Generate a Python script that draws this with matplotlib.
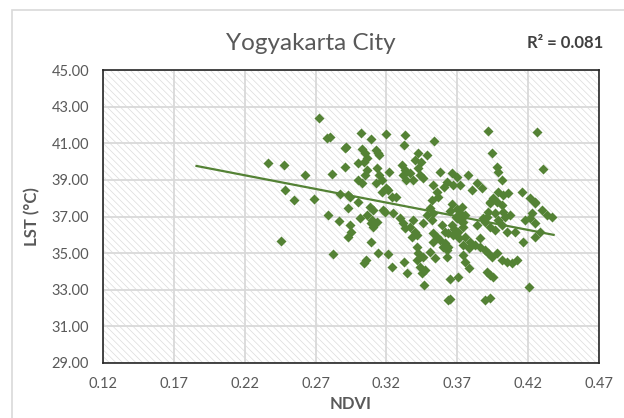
import numpy as np
import matplotlib
matplotlib.use('Agg')
import matplotlib.pyplot as plt
from matplotlib.patches import Rectangle

# values
ndvi = [
    0.2727, 0.278, 0.280, 0.2362, 0.248, 0.2626, 0.2818, 0.2484, 0.255, 0.269,
    0.287, 0.2908, 0.2908, 0.2786, 0.2866, 0.2454, 0.282,
    0.302, 0.309, 0.3197, 0.333, 0.3326, 0.3536, 0.2915, 0.303, 0.305, 0.306, 0.304,
    0.3127, 0.314, 0.315, 0.2997, 0.306, 0.305, 0.2997, 0.3026, 0.313, 0.3148, 0.3125,
    0.3167, 0.322, 0.3197, 0.3167, 0.3213, 0.3237, 0.327, 0.3308, 0.333, 0.332, 0.334,
    0.3367, 0.3386, 0.3425, 0.3402, 0.3442, 0.3484, 0.3425, 0.3437, 0.346, 0.3531,
    0.3555, 0.3566, 0.3578, 0.352, 0.3607, 0.293, 0.294, 0.2997, 0.293, 0.3084,
    0.3107, 0.306, 0.3178, 0.319, 0.313, 0.3096, 0.3245, 0.3296, 0.332, 0.333,
    0.3367, 0.339, 0.340, 0.3414, 0.338, 0.3456, 0.3484, 0.3508, 0.3531, 0.352,
    0.359, 0.3614, 0.3578, 0.3602, 0.3625, 0.3014, 0.294, 0.2952, 0.293, 0.3089,
    0.3103, 0.3089, 0.3143, 0.3213, 0.324, 0.304, 0.3056, 0.3324, 0.3343, 0.3418,
    0.3437, 0.345, 0.3472, 0.3425, 0.3461, 0.3414, 0.3467, 0.3531, 0.3555, 0.3531,
    0.3508, 0.3543, 0.3637,
    0.3919, 0.426, 0.3943, 0.3978, 0.3985, 0.4302, 0.4014, 0.366, 0.3696, 0.3778,
    0.3672, 0.372, 0.3837, 0.3801, 0.3872, 0.3625, 0.399, 0.4025, 0.406, 0.4155,
    0.4213, 0.4249, 0.393, 0.3954,
    0.373, 0.372, 0.3755, 0.3696, 0.3743, 0.366, 0.3637, 0.3672, 0.3708, 0.3614,
    0.3637, 0.3625, 0.393, 0.3978, 0.4014, 0.3919, 0.3966, 0.4025, 0.4072, 0.3837,
    0.3895, 0.393, 0.3966, 0.4014, 0.4049, 0.4108, 0.4249, 0.4296, 0.433, 0.4366,
    0.4213, 0.4249, 0.4284, 0.4249, 0.4166, 0.3755, 0.379, 0.3743, 0.378, 0.3825,
    0.386, 0.3895, 0.392, 0.3943, 0.3978, 0.4014, 0.4049, 0.4084, 0.412, 0.3743,
    0.3755, 0.378, 0.3907, 0.393, 0.3954, 0.3649, 0.3708, 0.4206, 0.3649, 0.3895,
    0.393,
    0.3650, 0.3690, 0.3720, 0.3680, 0.3710, 0.3660, 0.3700, 0.3740, 0.3880, 0.3910,
    0.3860, 0.3990, 0.4040, 0.4180, 0.4230,
]
lst = [
    42.36, 41.27, 41.36, 39.90, 39.81, 39.27, 39.30, 38.45, 37.90, 37.96,
    38.21, 40.72, 39.72, 37.08, 36.77, 35.66, 34.95,
    41.58, 41.22, 41.49, 41.45, 40.90, 41.14, 40.81, 40.67, 40.45, 40.18, 39.99,
    40.63, 40.45, 40.36, 39.94, 39.54, 39.27, 38.99, 38.81, 39.63, 39.27, 38.85,
    38.99, 39.45, 38.54, 38.35, 38.45, 38.08, 38.05, 39.81, 39.54, 39.27, 38.99,
    39.36, 38.99, 40.45, 40.09, 39.99, 40.36, 39.63, 39.27, 39.09, 38.72,
    38.35, 38.08, 39.45, 37.90, 38.59, 38.17, 38.08, 37.81, 37.45, 37.53,
    37.35, 37.08, 37.35, 37.26, 36.72, 36.81, 37.17, 36.90, 36.63, 36.35,
    36.44, 36.81, 36.17, 35.99, 35.90, 36.66, 37.08, 37.45, 37.21, 36.81,
    36.54, 36.17, 35.72, 35.35, 35.17, 36.90, 36.54, 36.17, 35.90, 36.66,
    36.44, 35.63, 34.99, 34.95, 34.26, 34.44, 34.62, 34.50, 33.90, 34.62,
    34.26, 33.90, 34.08, 34.99, 34.80, 35.35, 33.26, 35.63, 35.90, 36.08,
    35.08, 34.71, 32.44,
    41.67, 41.63, 40.49, 39.72, 39.45, 39.58, 38.99, 39.36, 39.18, 39.27,
    38.72, 38.72, 38.81, 38.45, 38.54, 38.90, 38.35, 38.17, 38.27, 38.35,
    38.03, 37.81, 37.81, 37.99,
    37.53, 37.17, 37.08, 36.90, 36.72, 36.54, 36.08, 35.99, 36.17, 35.54,
    35.35, 34.80, 37.72, 37.81, 37.63, 37.26, 37.17, 37.26, 37.08, 36.54,
    36.72, 36.44, 36.26, 36.54, 36.17, 36.17, 37.72, 37.35, 37.08, 36.99,
    36.90, 36.63, 36.17, 35.90, 35.63, 35.90, 35.63, 35.44, 35.26, 35.44,
    35.35, 35.17, 34.99, 34.80, 34.99, 34.62, 34.53, 34.44, 34.62, 34.90,
    34.53, 34.17, 33.99, 33.81, 33.72, 33.57, 33.68, 33.13, 32.48, 32.44,
    32.57,
    37.30, 37.00, 36.80, 36.30, 35.80, 37.70, 37.40, 36.40, 36.90, 37.00,
    35.80, 36.80, 37.00, 36.80, 37.20,
]
r2_label = "R² = 0.081"
trend_range = [0.186, 0.438]

x_ticks = [0.12, 0.17, 0.22, 0.27, 0.32, 0.37, 0.42, 0.47]
y_ticks = [29, 31, 33, 35, 37, 39, 41, 43, 45]

GREEN = '#548235'
GREY = '#595959'
GRID = '#d9d9d9'

plt.rcParams['font.family'] = ['Lato', 'DejaVu Sans']
plt.rcParams['hatch.color'] = '#dcdcdc'
plt.rcParams['hatch.linewidth'] = 0.5

fig = plt.figure(figsize=(6.24, 4.18), dpi=100)

# light chart-area border
fig.patches.append(Rectangle((12 / 624, -0.1), 1.2, 1.1 - 10 / 418,
                             transform=fig.transFigure, fill=False,
                             edgecolor=GRID, linewidth=1.2))

ax = fig.add_axes([103 / 624, 1 - 363 / 418, 496 / 624, 293 / 418])
ax.add_patch(Rectangle((0, 0), 1, 1, transform=ax.transAxes, facecolor='white',
                       edgecolor='#dcdcdc', hatch='\\\\\\\\\\', linewidth=0, zorder=0))

ax.scatter(ndvi, lst, marker='D', s=26, color=GREEN, linewidths=0, zorder=3)

# linear trendline
slope, intercept = np.polyfit(ndvi, lst, 1)
tx = np.array(trend_range)
ax.plot(tx, slope * tx + intercept, color=GREEN, linewidth=1.6, zorder=4)

ax.set_xlim(0.12, 0.47)
ax.set_ylim(29, 45)
ax.set_xticks(x_ticks)
ax.set_xticklabels([f"{v:.2f}" for v in x_ticks])
ax.set_yticks(y_ticks)
ax.set_yticklabels([f"{v:.2f}" for v in y_ticks])
ax.tick_params(length=0, labelsize=10.5, colors=GREY, pad=10)
ax.grid(True, color=GRID, linewidth=1.3, zorder=1)
ax.set_axisbelow(True)
for s in ax.spines.values():
    s.set_color('#262626')
    s.set_linewidth(1.2)
    s.set_zorder(5)

ax.set_xlabel("NDVI", fontsize=12, fontweight='bold', color=GREY, labelpad=4)
ax.set_ylabel("LST (°C)", fontsize=12, fontweight='bold', color=GREY, labelpad=8)

fig.text(311 / 624, 1 - 43 / 418, "Yogyakarta City", fontsize=17.5, color=GREY,
         ha='center', va='center')
fig.text(603 / 624, 1 - 43 / 418, r2_label, fontsize=12, fontweight='bold',
         color='#404040', ha='right', va='center')

fig.savefig('out.png', dpi=100)
